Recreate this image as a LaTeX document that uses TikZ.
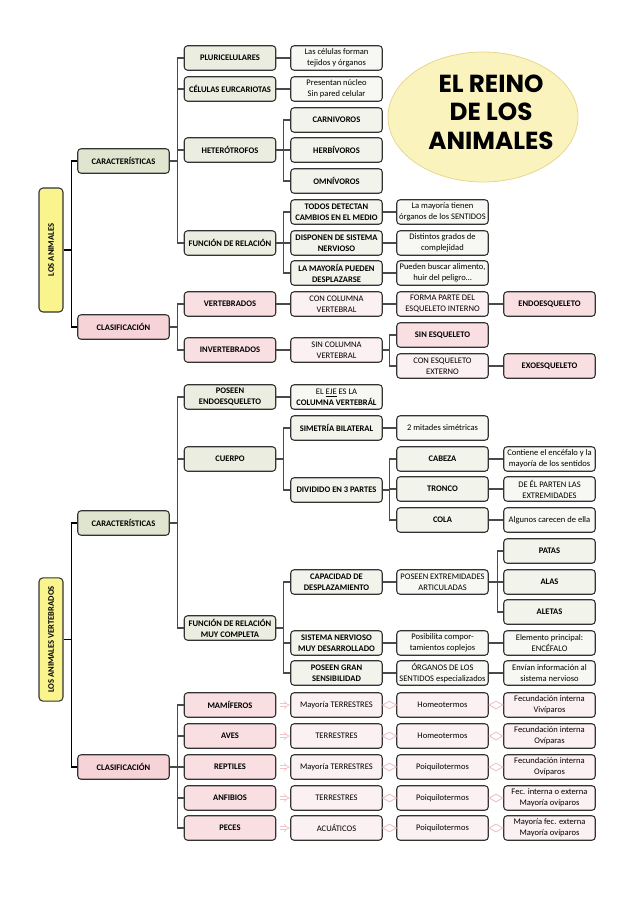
\documentclass[tikz,border=0pt]{standalone}
\usepackage{fontspec}
\setmainfont{Carlito}
\newfontfamily\titlefont{Poppins}
\usetikzlibrary{arrows.meta,shapes.geometric}
\definecolor{boxline}{HTML}{333333}
\definecolor{linecol}{HTML}{4A4A4A}
\definecolor{gA}{HTML}{DFE5CF}
\definecolor{gB}{HTML}{EAEDDF}
\definecolor{gC}{HTML}{F2F3EB}
\definecolor{gD}{HTML}{F7F8F3}
\definecolor{pA}{HTML}{F5D3D6}
\definecolor{pB}{HTML}{F9DFE1}
\definecolor{pC}{HTML}{FCF1F2}
\definecolor{yel}{HTML}{F9F48E}
\definecolor{titlefill}{HTML}{FBF3BE}
\definecolor{titleline}{HTML}{E6D78C}
\definecolor{pinkln}{HTML}{F0C2C7}
\newcommand\myfs{\fontsize{6.4}{8.2}\selectfont}
\begin{document}
\begin{tikzpicture}[x=0.75pt,y=-0.75pt,font=\myfs,
  box/.style={draw=boxline,line width=0.8pt,rounded corners=2.5pt,minimum width=68.6pt,minimum height=18.4pt,inner sep=1pt,align=center,text=black},
  bx/.style={box,font=\myfs\bfseries},
  ga/.style={bx,fill=gA},
  gb/.style={bx,fill=gB},
  gc/.style={bx,fill=gC},
  gd/.style={box,fill=gD},
  pa/.style={bx,fill=pA},
  pb/.style={bx,fill=pB},
  pc/.style={box,fill=pC},
  root/.style={draw=boxline,line width=0.8pt,rounded corners=3pt,fill=yel,minimum width=18pt,inner sep=0pt,font=\myfs\bfseries},
  link/.style={draw=linecol,line width=0.9pt},
  rootlink/.style={draw=black,line width=0.9pt},
  pinkarr/.style={draw=pinkln,double,double distance=1.6pt,line width=0.55pt,-{Implies},shorten <=2.5pt,shorten >=0.5pt},
  dia/.style={diamond,draw=pinkln,line width=0.7pt,minimum width=10.5pt,minimum height=6pt,inner sep=0pt}
]
\useasboundingbox (0,0) rectangle (638,903);

% ---------- title ----------
\node[ellipse,fill=titlefill,draw=titleline,line width=0.6pt,minimum width=142.5pt,minimum height=97.5pt,inner sep=0pt] (title) at (483,117) {};
\node[align=center,inner sep=0pt,font=\titlefont\bfseries\fontsize{18.5}{21.5}\selectfont] (titletext) at (491,112) {EL REINO\\DE LOS\\ANIMALES};

% ---------- LOS ANIMALES ----------
\node[root,minimum height=93pt] (r1) at (51,250) {\rotatebox{90}{LOS ANIMALES}};
\node[ga] (car1) at (123.5,161) {CARACTERÍSTICAS};
\node[pa] (cla1) at (123.5,327) {CLASIFICACIÓN};

\node[gb] (plur) at (230,58) {PLURICELULARES};
\node[gb] (cel) at (230,89) {CÉLULAS EURCARIOTAS};
\node[gb] (het) at (230,150) {HETERÓTROFOS};
\node[gb] (fun) at (230,243) {FUNCIÓN DE RELACIÓN};

\node[gd] (dplur) at (336.5,58) {Las células forman\\tejidos y órganos};
\node[gd] (dcel) at (336.5,89) {Presentan núcleo\\Sin pared celular};

\node[gc] (carn) at (336.5,120) {CARNIVOROS};
\node[gc] (herb) at (336.5,150) {HERBÍVOROS};
\node[gc] (omni) at (336.5,181) {OMNÍVOROS};

\node[gc] (todos) at (336.5,212) {TODOS DETECTAN\\CAMBIOS EN EL MEDIO};
\node[gc] (disp) at (336.5,243) {DISPONEN DE SISTEMA\\NERVIOSO};
\node[gc] (mayor) at (336.5,273) {LA MAYORÍA PUEDEN\\DESPLAZARSE};

\node[gd] (dtodos) at (442.5,212) {La mayoría tienen\\órganos de los SENTIDOS};
\node[gd] (ddisp) at (442.5,243) {Distintos grados de\\complejidad};
\node[gd] (dmayor) at (442.5,273) {Pueden buscar alimento,\\huir del peligro…};

\node[pb] (vert) at (230,304) {VERTEBRADOS};
\node[pb] (invert) at (230,350) {INVERTEBRADOS};
\node[pc] (concol) at (336.5,304) {CON COLUMNA\\VERTEBRAL};
\node[pc] (forma) at (442.5,304) {FORMA PARTE DEL\\ESQUELETO INTERNO};
\node[pb] (endo) at (549.5,304) {ENDOESQUELETO};
\node[pc] (sincol) at (336.5,350) {SIN COLUMNA\\VERTEBRAL};
\node[pb] (sinesq) at (442.5,335) {SIN ESQUELETO};
\node[pc] (conesq) at (442.5,366) {CON ESQUELETO\\EXTERNO};
\node[pb] (exo) at (549.5,366) {EXOESQUELETO};

% ---------- LOS ANIMALES VERTEBRADOS ----------
\node[root,minimum height=92.5pt] (r2) at (51,639.5) {\rotatebox{90}{LOS ANIMALES VERTEBRADOS}};
\node[ga] (car2) at (123.5,523) {CARACTERÍSTICAS};
\node[pa] (cla2) at (123.5,767) {CLASIFICACIÓN};

\node[gb] (posee) at (230,397) {POSEEN\\ENDOESQUELETO};
\node[gb] (cuerpo) at (230,459) {CUERPO};
\node[gb] (funmc) at (230,628) {FUNCIÓN DE RELACIÓN\\MUY COMPLETA};

\node[gd] (eje) at (336.5,397) {EL \underline{EJE} ES LA\\\textbf{COLUMNA VERTEBRÁL}};
\node[gc] (sim) at (336.5,428) {SIMETRÍA BILATERAL};
\node[gc] (div) at (336.5,490) {DIVIDIDO EN 3 PARTES};
\node[gd] (mit) at (442.5,428) {2 mitades simétricas};
\node[gc] (cab) at (442.5,459) {CABEZA};
\node[gc] (tro) at (442.5,489) {TRONCO};
\node[gc] (col) at (442.5,520) {COLA};
\node[gd] (dcab) at (549.5,459) {Contiene el encéfalo y la\\mayoría de los sentidos};
\node[gd] (dtro) at (549.5,489) {DE ÉL PARTEN LAS\\EXTREMIDADES};
\node[gd] (dcol) at (549.5,520) {Algunos carecen de ella};

\node[gc] (cap) at (336.5,582) {CAPACIDAD DE\\DESPLAZAMIENTO};
\node[gc] (sis) at (336.5,643) {SISTEMA NERVIOSO\\MUY DESARROLLADO};
\node[gc] (pgs) at (336.5,673) {POSEEN GRAN\\SENSIBILIDAD};
\node[gd] (ext) at (442.5,582) {POSEEN EXTREMIDADES\\ARTICULADAS};
\node[gc] (patas) at (549.5,551) {PATAS};
\node[gc] (alas) at (549.5,582) {ALAS};
\node[gc] (aletas) at (549.5,612) {ALETAS};
\node[gd] (posib) at (442.5,643) {Posibilita compor-\\tamientos coplejos};
\node[gd] (elem) at (549.5,643) {Elemento principal:\\ENCÉFALO};
\node[gd] (org) at (442.5,673) {ÓRGANOS DE LOS\\SENTIDOS especializados};
\node[gd] (env) at (549.5,673) {Envían información al\\sistema nervioso};

\node[pb] (mam) at (230,705) {MAMÍFEROS};
\node[pb] (ave) at (230,736) {AVES};
\node[pb] (rep) at (230,767) {REPTILES};
\node[pb] (anf) at (230,798) {ANFIBIOS};
\node[pb] (pec) at (230,828) {PECES};

\node[pc] (hmam) at (336.5,705) {Mayoría TERRESTRES};
\node[pc] (have) at (336.5,736) {TERRESTRES};
\node[pc] (hrep) at (336.5,767) {Mayoría TERRESTRES};
\node[pc] (hanf) at (336.5,798) {TERRESTRES};
\node[pc] (hpec) at (336.5,828) {ACUÁTICOS};

\node[pc] (tmam) at (442.5,705) {Homeotermos};
\node[pc] (tave) at (442.5,736) {Homeotermos};
\node[pc] (trep) at (442.5,767) {Poiquilotermos};
\node[pc] (tanf) at (442.5,798) {Poiquilotermos};
\node[pc] (tpec) at (442.5,828) {Poiquilotermos};

\node[pc] (fmam) at (549.5,705) {Fecundación interna\\Vivíparos};
\node[pc] (fave) at (549.5,736) {Fecundación interna\\Ovíparas};
\node[pc] (frep) at (549.5,767) {Fecundación interna\\Ovíparos};
\node[pc] (fanf) at (549.5,798) {Fec. interna o externa\\Mayoría ovíparos};
\node[pc] (fpec) at (549.5,828) {Mayoría fec. externa\\Mayoría ovíparos};

% ---------- connectors (top) ----------
\foreach \c in {car1,cla1} \draw[rootlink] (r1.east) -- ++(8,0) |- (\c.west);
\foreach \c in {plur,cel,het,fun} \draw[link] (car1.east) -- ++(8,0) |- (\c.west);
\foreach \c in {carn,herb,omni} \draw[link] (het.east) -- ++(7,0) |- (\c.west);
\foreach \c in {todos,disp,mayor} \draw[link] (fun.east) -- ++(7,0) |- (\c.west);
\draw[link] (plur) -- (dplur);
\draw[link] (cel) -- (dcel);
\draw[link] (todos) -- (dtodos);
\draw[link] (disp) -- (ddisp);
\draw[link] (mayor) -- (dmayor);
\foreach \c in {vert,invert} \draw[link] (cla1.east) -- ++(8,0) |- (\c.west);
\draw[link] (vert) -- (concol);
\draw[link] (concol) -- (forma);
\draw[link] (forma) -- (endo);
\draw[link] (invert) -- (sincol);
\foreach \c in {sinesq,conesq} \draw[link] (sincol.east) -- ++(7,0) |- (\c.west);
\draw[link] (conesq) -- (exo);

% ---------- connectors (bottom) ----------
\foreach \c in {car2,cla2} \draw[rootlink] (r2.east) -- ++(8,0) |- (\c.west);
\foreach \c in {posee,cuerpo,funmc} \draw[link] (car2.east) -- ++(8,0) |- (\c.west);
\draw[link] (posee) -- (eje);
\foreach \c in {sim,div} \draw[link] (cuerpo.east) -- ++(7,0) |- (\c.west);
\draw[link] (sim) -- (mit);
\foreach \c in {cab,tro,col} \draw[link] (div.east) -- ++(7,0) |- (\c.west);
\draw[link] (cab) -- (dcab);
\draw[link] (tro) -- (dtro);
\draw[link] (col) -- (dcol);
\foreach \c in {cap,sis,pgs} \draw[link] (funmc.east) -- ++(7,0) |- (\c.west);
\draw[link] (cap) -- (ext);
\foreach \c in {patas,alas,aletas} \draw[link] (ext.east) -- ++(9,0) |- (\c.west);
\draw[link] (sis) -- (posib);
\draw[link] (posib) -- (elem);
\draw[link] (pgs) -- (org);
\draw[link] (org) -- (env);
\foreach \c in {mam,ave,rep,anf,pec} \draw[link] (cla2.east) -- ++(8,0) |- (\c.west);
\foreach \a in {mam,ave,rep,anf,pec} {
  \draw[pinkarr] (\a.east) -- (h\a.west);
  \path (h\a.east) -- node[dia]{} (t\a.west);
  \path (t\a.east) -- node[dia]{} (f\a.west);
}
\end{tikzpicture}
\end{document}
